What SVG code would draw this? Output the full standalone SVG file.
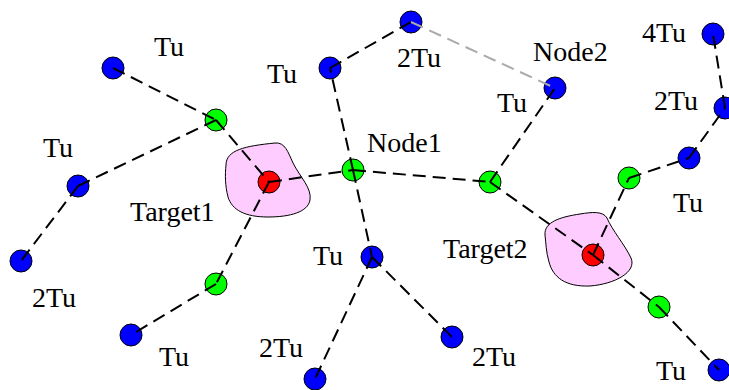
<svg xmlns="http://www.w3.org/2000/svg" width="729" height="390" viewBox="0 0 729 390">
<style>
.b{fill:#0000ff;stroke:#000;stroke-width:1}
.g{fill:#00ff00;stroke:#000;stroke-width:1}
.r{fill:#ff0000;stroke:#000;stroke-width:1}
.blob{fill:#ffccff;stroke:#000;stroke-width:1}
.e{stroke:#000;stroke-width:2;stroke-dasharray:13,7;fill:none}
.eg{stroke:#aaaaaa;stroke-width:2;stroke-dasharray:13,7;fill:none}
text{font-family:"Liberation Serif","Times New Roman",serif;font-size:28px;fill:#000}
</style>
<rect width="729" height="390" fill="#fff"/>
<g id="region1"><path class="blob" d="M226,165 C226,150 245,146 275,143 C285,142 288,152 293,163 C300,177 312,188 310,200 C308,212 290,217 268,217 C245,217 232,210 228,197 C225,185 225,175 226,165 Z"/></g>
<g id="region2"><path class="blob" d="M545,235 C544,222 560,217 580,214 C592,212 603,211 607,218 C612,230 625,245 631,258 C637,272 615,284 590,286 C565,287 553,277 549,262 C546,252 546,243 545,235 Z"/></g>
<g id="b1"><circle class="b" cx="113" cy="68" r="11"/></g>
<g id="b2"><circle class="b" cx="78" cy="186" r="11"/></g>
<g id="b3"><circle class="b" cx="21" cy="261" r="11"/></g>
<g id="g1"><circle class="g" cx="216" cy="120" r="11"/></g>
<g id="target1"><circle class="r" cx="269" cy="182" r="11"/></g>
<g id="g2"><circle class="g" cx="216" cy="284" r="11"/></g>
<g id="b4"><circle class="b" cx="131" cy="335" r="11"/></g>
<g id="node1"><circle class="g" cx="353" cy="170" r="11"/></g>
<g id="b5"><circle class="b" cx="330" cy="68" r="11"/></g>
<g id="b6"><circle class="b" cx="411" cy="22" r="11"/></g>
<g id="g4"><circle class="g" cx="490" cy="182" r="11"/></g>
<g id="node2"><circle class="b" cx="555" cy="88" r="11"/></g>
<g id="b8"><circle class="b" cx="713" cy="34" r="11"/></g>
<g id="b9"><circle class="b" cx="725" cy="108" r="11"/></g>
<g id="b10"><circle class="b" cx="689" cy="158" r="11"/></g>
<g id="g5"><circle class="g" cx="629" cy="178" r="11"/></g>
<g id="target2"><circle class="r" cx="593" cy="255" r="11"/></g>
<g id="g6"><circle class="g" cx="659" cy="307" r="11"/></g>
<g id="b11"><circle class="b" cx="719" cy="370" r="11"/></g>
<g id="b12"><circle class="b" cx="372" cy="257" r="11"/></g>
<g id="b13"><circle class="b" cx="315" cy="379" r="11"/></g>
<g id="b14"><circle class="b" cx="452" cy="337" r="11"/></g>
<g id="connectors">
<line class="e" x1="113" y1="68" x2="216" y2="120"/>
<line class="e" x1="78" y1="186" x2="216" y2="120"/>
<line class="e" x1="78" y1="186" x2="21" y2="261"/>
<line class="e" x1="216" y1="120" x2="269" y2="182"/>
<line class="e" x1="269" y1="182" x2="353" y2="170"/>
<line class="e" x1="269" y1="182" x2="216" y2="284"/>
<line class="e" x1="216" y1="284" x2="131" y2="335"/>
<line class="e" x1="353" y1="170" x2="330" y2="68"/>
<line class="e" x1="330" y1="68" x2="411" y2="22"/>
<line class="e" x1="353" y1="170" x2="490" y2="182"/>
<line class="e" x1="353" y1="170" x2="372" y2="257"/>
<line class="e" x1="372" y1="257" x2="315" y2="379"/>
<line class="e" x1="372" y1="257" x2="452" y2="337"/>
<line class="e" x1="490" y1="182" x2="555" y2="88"/>
<line class="e" x1="490" y1="182" x2="593" y2="255"/>
<line class="e" x1="593" y1="255" x2="629" y2="178"/>
<line class="e" x1="629" y1="178" x2="689" y2="158"/>
<line class="e" x1="689" y1="158" x2="725" y2="108"/>
<line class="e" x1="725" y1="108" x2="713" y2="34"/>
<line class="e" x1="593" y1="255" x2="659" y2="307"/>
<line class="e" x1="659" y1="307" x2="719" y2="370"/>
<line class="eg" x1="411" y1="22" x2="555" y2="88"/>
</g>
<g id="labels">
<text x="154" y="56">Tu</text>
<text x="43" y="157">Tu</text>
<text x="32" y="307">2Tu</text>
<text x="130" y="221">Target1</text>
<text x="159" y="366">Tu</text>
<text x="267" y="83">Tu</text>
<text x="397" y="67">2Tu</text>
<text x="367" y="152">Node1</text>
<text x="533" y="61">Node2</text>
<text x="497" y="112">Tu</text>
<text x="642" y="42">4Tu</text>
<text x="654" y="110">2Tu</text>
<text x="673" y="212">Tu</text>
<text x="443" y="258">Target2</text>
<text x="656" y="380">Tu</text>
<text x="313" y="265">Tu</text>
<text x="259" y="357">2Tu</text>
<text x="472" y="366">2Tu</text>
</g>
</svg>
